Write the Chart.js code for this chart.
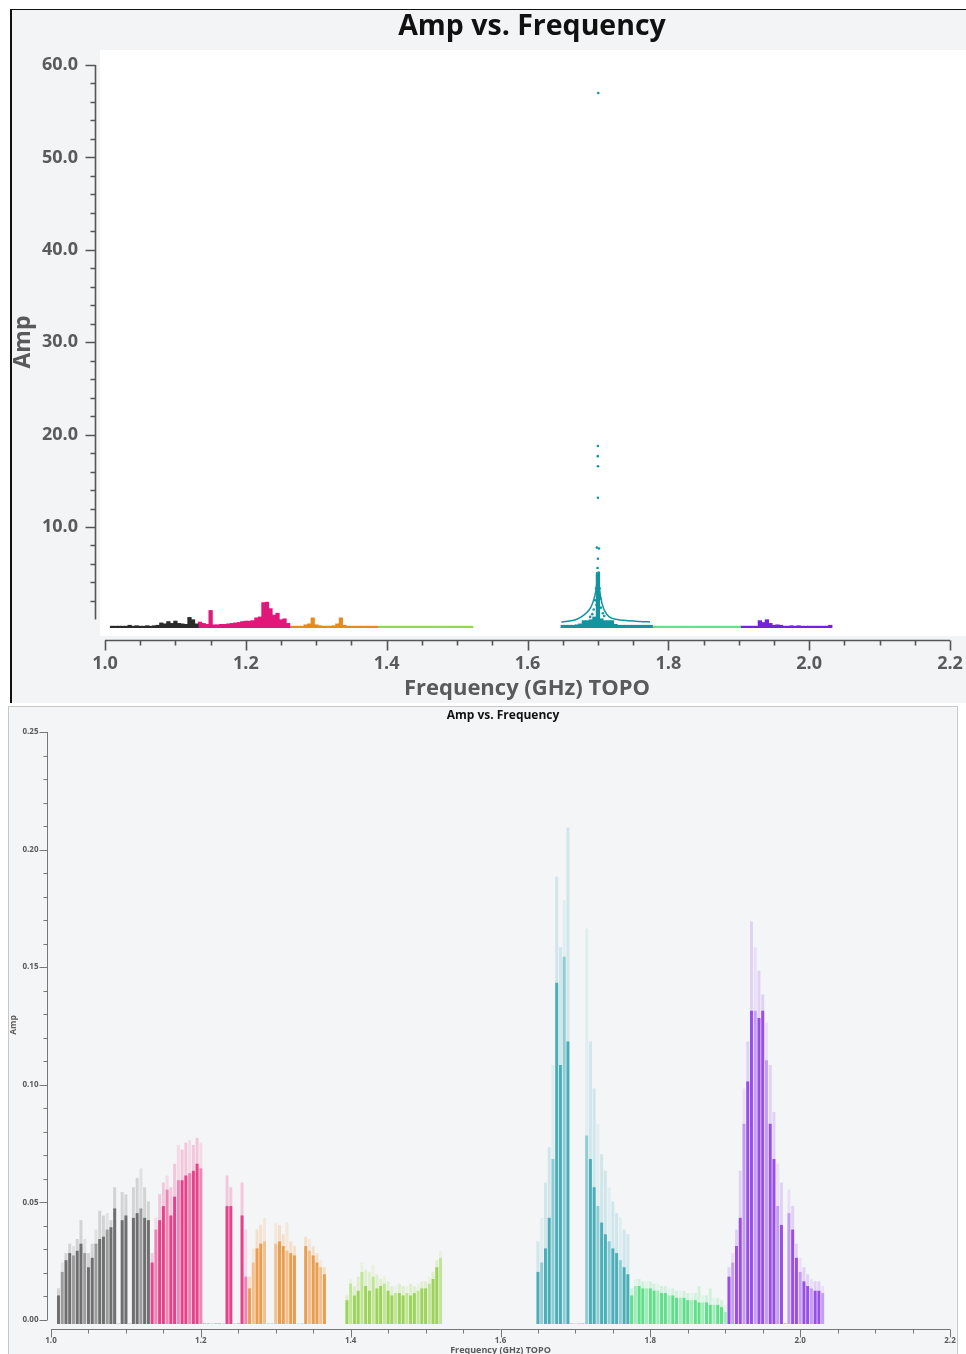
<!DOCTYPE html>
<html>
<head>
<meta charset="utf-8">
<script src="https://cdn.jsdelivr.net/npm/chart.js@4.4.1/dist/chart.umd.min.js"></script>
<style>
  html, body { margin: 0; padding: 0; background: #fff; }
  #top { position: absolute; left: 0; top: 0; width: 966px; height: 705px; }
  #bottom { position: absolute; left: 0; top: 705px; width: 966px; height: 649px; }
</style>
</head>
<body>
<div id="top"><canvas id="ampTop"></canvas></div>
<div id="bottom"><canvas id="ampBottom"></canvas></div>
<script>
// channel spacing of the sampled spectra (GHz)
const STEP = 0.005;

// axis tick labels
const xTickLabels = [1.0, 1.2, 1.4, 1.6, 1.8, 2.0, 2.2];
const topYTickLabels = [10, 20, 30, 40, 50, 60];
const bottomYTickLabels = [0.00, 0.05, 0.10, 0.15, 0.20, 0.25];

// ---- upper plot (raw amp), one array per spw ----
const topBlackStart = 1.010;
const topBlack = [0.2, 0.2, 0.2, 0.2, 0.2, 0.3, 0.2, 0.25, 0.2, 0.2, 0.25, 0.2, 0.25, 0.3, 0.55,
                  0.45, 0.7, 0.5, 0.75, 0.5, 0.45, 0.4, 1.15, 0.9, 0.45];
const topPinkStart = 1.135;
const topPink = [0.65, 0.5, 0.4, 1.9, 0.35, 0.35, 0.4, 0.4, 0.45, 0.5, 0.55, 0.6, 0.7, 0.75, 0.75,
                 0.8, 1.1, 1.2, 2.75, 2.8, 2.1, 1.4, 1.6, 0.9, 1.0, 0.5];
const topOrangeStart = 1.265;
const topOrange = [0.2, 0.2, 0.2, 0.2, 0.35, 0.45, 1.1, 0.35, 0.25, 0.2, 0.2, 0.2, 0.25, 0.45, 1.1,
                   0.3, 0.2, 0.2, 0.2, 0.2, 0.2, 0.2, 0.2, 0.2, 0.2];
const topGreenStart = 1.390;
const topGreen = [0.2, 0.2, 0.2, 0.2, 0.2, 0.2, 0.2, 0.2, 0.2, 0.2, 0.2, 0.2, 0.2, 0.2, 0.2,
                  0.2, 0.2, 0.2, 0.2, 0.2, 0.2, 0.2, 0.2, 0.2, 0.2, 0.2, 0.2];
const topTealStart = 1.650;
const topTeal = [0.3, 0.3, 0.3, 0.3, 0.35, 0.45, 0.8, 0.8, 0.9, 1.2, 6.0, 1.0, 0.8, 0.8, 0.8,
                 0.4, 0.3, 0.3, 0.3, 0.3, 0.3, 0.3, 0.3, 0.3, 0.3, 0.3];
const topMintStart = 1.780;
const topMint = [0.2, 0.2, 0.2, 0.2, 0.2, 0.2, 0.2, 0.2, 0.2, 0.2, 0.2, 0.2, 0.2, 0.2, 0.2,
                 0.2, 0.2, 0.2, 0.2, 0.2, 0.2, 0.2, 0.2, 0.2, 0.2];
const topPurpleStart = 1.905;
const topPurple = [0.2, 0.2, 0.2, 0.2, 0.2, 0.8, 0.6, 0.9, 0.5, 0.3, 0.35, 0.3, 0.2, 0.2, 0.25,
                   0.2, 0.25, 0.2, 0.2, 0.2, 0.2, 0.2, 0.2, 0.2, 0.2, 0.3];

// teal spw: outer fan of points and the scattered outliers
const tealWingLeftFreq = [1.648, 1.660, 1.670, 1.680, 1.688, 1.693, 1.697, 1.699];
const tealWingLeftAmp = [0.65, 0.75, 0.95, 1.4, 2.0, 2.8, 4.0, 5.2];
const tealWingRightFreq = [1.701, 1.703, 1.706, 1.710, 1.716, 1.725, 1.740, 1.760, 1.774];
const tealWingRightAmp = [5.0, 3.8, 2.6, 1.8, 1.2, 0.95, 0.8, 0.7, 0.65];
const tealOutlierFreq = [1.7005, 1.7000, 1.6998, 1.7002, 1.7000, 1.6985, 1.7015, 1.7000, 1.6995, 1.7010,
                         1.6990, 1.7000, 1.6975, 1.7025, 1.6995, 1.7035, 1.6960, 1.6980, 1.7040, 1.6940,
                         1.7070, 1.6920, 1.7090, 1.6890];
const tealOutlierAmp = [57.9, 19.7, 18.6, 17.5, 14.1, 8.7, 8.6, 7.5, 6.5, 6.0,
                        5.5, 5.0, 4.3, 4.3, 3.8, 3.2, 3.0, 2.5, 2.2, 2.0,
                        1.6, 1.5, 1.3, 1.2];

// ---- lower plot (calibrated amp): dense level and highest scattered points ----
const grayStart = 1.010;
const grayDense = [0.012, 0.022, 0.027, 0.030, 0.029, 0.031, 0.034, 0.030, 0.024, 0.028,
                   0.034, 0.036, 0.037, 0.040, 0.041, 0.049, 0, 0.044, 0.046, 0,
                   0.045, 0.047, 0.049, 0.045, 0.044];
const grayPeak = [0.015, 0.026, 0.030, 0.034, 0.033, 0.036, 0.044, 0.036, 0.030, 0.034,
                  0.040, 0.048, 0.046, 0.047, 0.044, 0.058, 0, 0.056, 0.055, 0,
                  0.058, 0.062, 0.066, 0.058, 0.052];
const pinkStart = 1.135;
const pinkDense = [0.026, 0.040, 0.044, 0.050, 0.057, 0.046, 0.054, 0.061, 0.061, 0.063,
                   0.064, 0.065, 0.068, 0.066, 0, 0, 0, 0, 0, 0,
                   0.050, 0.050, 0, 0, 0.046, 0.020];
const pinkPeak = [0.030, 0.045, 0.055, 0.060, 0.063, 0.058, 0.068, 0.076, 0.074, 0.077,
                  0.078, 0.076, 0.079, 0.077, 0, 0, 0, 0, 0, 0,
                  0.063, 0.058, 0, 0, 0.060, 0.040];
const orangeStart = 1.265;
const orangeDense = [0.015, 0.026, 0.032, 0.034, 0.035, 0, 0, 0.034, 0.035, 0.033,
                     0.031, 0.030, 0.029, 0, 0, 0.033, 0.031, 0.029, 0.026, 0.024, 0.021];
const orangePeak = [0.020, 0.032, 0.040, 0.042, 0.045, 0, 0, 0.043, 0.042, 0.038,
                    0.043, 0.035, 0.033, 0, 0, 0.037, 0.036, 0.033, 0.030, 0.027, 0.024];
const greenStart = 1.395;
const greenDense = [0.010, 0.017, 0.012, 0.014, 0.022, 0.016, 0.014, 0.020, 0.015, 0.016,
                    0.017, 0.014, 0.012, 0.013, 0.013, 0.012, 0.013, 0.012, 0.013, 0.014,
                    0.015, 0.015, 0.017, 0.019, 0.024, 0.028];
const greenPeak = [0.012, 0.019, 0.016, 0.020, 0.026, 0.023, 0.022, 0.025, 0.021, 0.019,
                   0.020, 0.018, 0.016, 0.016, 0.017, 0.016, 0.016, 0.017, 0.016, 0.017,
                   0.018, 0.018, 0.020, 0.022, 0.027, 0.031];
const tealStart = 1.650;
const tealDense = [0.022, 0.026, 0.032, 0.045, 0.070, 0.145, 0.110, 0.156, 0.120, 0,
                   0, 0, 0, 0.080, 0.070, 0.058, 0.050, 0.043, 0.038, 0.035,
                   0.032, 0.030, 0.027, 0.024, 0.021];
const tealPeak = [0.035, 0.045, 0.060, 0.075, 0.110, 0.190, 0.160, 0.180, 0.211, 0,
                  0, 0, 0, 0.168, 0.120, 0.100, 0.085, 0.072, 0.065, 0.058,
                  0.052, 0.047, 0.045, 0.040, 0.038];
const mintStart = 1.775;
const mintDense = [0.012, 0.016, 0.016, 0.015, 0.015, 0.015, 0.014, 0.014, 0.013, 0.013,
                   0.012, 0.012, 0.011, 0.011, 0.011, 0.010, 0.010, 0.010, 0.009, 0.009,
                   0.009, 0.008, 0.008, 0.008, 0.007, 0.005];
const mintPeak = [0.015, 0.019, 0.019, 0.018, 0.018, 0.018, 0.017, 0.017, 0.016, 0.016,
                  0.015, 0.015, 0.014, 0.014, 0.014, 0.013, 0.013, 0.013, 0.016, 0.012,
                  0.012, 0.015, 0.011, 0.011, 0.010, 0.008];
const purpleStart = 1.905;
const purpleDense = [0.020, 0.026, 0.033, 0.045, 0.085, 0.103, 0.133, 0.133, 0.130, 0.133,
                     0.112, 0.085, 0.070, 0.050, 0.042, 0, 0.047, 0.040, 0.028, 0.022,
                     0.018, 0.016, 0.015, 0.014, 0.014, 0.013];
const purplePeak = [0.024, 0.030, 0.040, 0.065, 0.100, 0.120, 0.171, 0.160, 0.150, 0.140,
                    0.128, 0.110, 0.090, 0.068, 0.060, 0, 0.057, 0.050, 0.034, 0.028,
                    0.024, 0.021, 0.019, 0.018, 0.018, 0.016];

// helpers
function channels(start, vals) {
    return vals.map((v, i) => ({ x: +(start + i * STEP).toFixed(4), y: v }));
}
function pairs(xs, ys) {
    return xs.map((x, i) => ({ x: x, y: ys[i] }));
}
function shade(base, light) {
    return c => (c.dataIndex % 3 === 1 ? light : base);
}

const FONT = '"Open Sans", "DejaVu Sans", sans-serif';

// draws the frames, axes, ticks and titles around a plot
function drawAxes(chart, s) {
    const ctx = chart.ctx;
    const xs = chart.scales.x;
    const ys = chart.scales.yAxis;
    ctx.save();
    ctx.strokeStyle = s.axisColor;
    ctx.lineWidth = s.lineW;

    // y axis
    const yTop = ys.getPixelForValue(s.yMax);
    const yBot = ys.getPixelForValue(s.yLineMin);
    ctx.beginPath();
    ctx.moveTo(s.yAxisX, yTop);
    ctx.lineTo(s.yAxisX, yBot);
    for (let k = Math.round(s.yLineMin / s.yMinor) + 1; k * s.yMinor <= s.yMax + 1e-9; k++) {
        const py = Math.round(ys.getPixelForValue(k * s.yMinor)) + 0.5;
        ctx.moveTo(s.yAxisX - s.minorLen, py);
        ctx.lineTo(s.yAxisX, py);
    }
    s.yTicks.forEach(v => {
        const py = Math.round(ys.getPixelForValue(v)) + 0.5;
        ctx.moveTo(s.yAxisX - s.majorLen, py);
        ctx.lineTo(s.yAxisX, py);
    });

    // x axis
    ctx.moveTo(xs.getPixelForValue(xTickLabels[0]), s.xAxisY);
    ctx.lineTo(xs.getPixelForValue(xTickLabels[xTickLabels.length - 1]), s.xAxisY);
    for (let k = 20; k <= 44; k++) {
        const px = Math.round(xs.getPixelForValue(k * 0.05)) + 0.5;
        ctx.moveTo(px, s.xAxisY);
        ctx.lineTo(px, s.xAxisY + (k % 4 === 0 ? s.majorLen : s.minorLen));
    }
    ctx.stroke();

    // tick labels
    ctx.fillStyle = s.labelColor;
    ctx.font = 'bold ' + s.tickFont + 'px ' + FONT;
    ctx.textAlign = 'right';
    ctx.textBaseline = 'middle';
    s.yTicks.forEach(v => {
        ctx.fillText(v.toFixed(s.yDigits), s.yLabelX, ys.getPixelForValue(v));
    });
    ctx.textAlign = 'center';
    xTickLabels.forEach(v => {
        ctx.fillText(v.toFixed(1), xs.getPixelForValue(v), s.xLabelY);
    });

    // axis titles
    ctx.font = 'bold ' + s.xTitleFont + 'px ' + FONT;
    ctx.fillText('Frequency (GHz) TOPO', s.xTitle[0], s.xTitle[1]);
    ctx.save();
    ctx.translate(s.yTitle[0], s.yTitle[1]);
    ctx.rotate(-Math.PI / 2);
    ctx.font = 'bold ' + s.yTitleFont + 'px ' + FONT;
    ctx.fillText('Amp', 0, 0);
    ctx.restore();

    // plot title
    ctx.fillStyle = '#111';
    ctx.font = 'bold ' + s.titleFont + 'px ' + FONT;
    ctx.fillText('Amp vs. Frequency', s.title[0], s.title[1]);
    ctx.restore();
}

const topFrame = {
    id: 'topFrame',
    beforeDraw(chart) {
        const ctx = chart.ctx;
        ctx.save();
        ctx.fillStyle = '#ffffff';
        ctx.fillRect(0, 0, chart.width, chart.height);
        ctx.fillStyle = '#f3f4f6';
        ctx.fillRect(11, 10, 955, 693);
        ctx.fillStyle = '#ffffff';
        ctx.fillRect(100, 50, 866, 586);
        ctx.fillStyle = '#111111';
        ctx.fillRect(10, 9, 2, 694);
        ctx.fillRect(10, 9, 956, 1);
        ctx.restore();
    },
    afterDraw(chart) {
        drawAxes(chart, {
            axisColor: '#555', lineW: 1.6, labelColor: '#5a5a5a',
            yAxisX: 95.5, yMax: 60, yLineMin: 0, yMinor: 2, yTicks: topYTickLabels, yDigits: 1,
            majorLen: 10, minorLen: 5, xAxisY: 640.5,
            tickFont: 18, yLabelX: 78, xLabelY: 664,
            xTitleFont: 22, xTitle: [527, 689],
            yTitleFont: 23, yTitle: [23, 342],
            titleFont: 28.5, title: [532, 27]
        });
    }
};

const bottomFrame = {
    id: 'bottomFrame',
    beforeDraw(chart) {
        const ctx = chart.ctx;
        ctx.save();
        ctx.fillStyle = '#ffffff';
        ctx.fillRect(0, 0, chart.width, chart.height);
        ctx.fillStyle = '#f4f5f7';
        ctx.fillRect(8, 1, 950, 648);
        ctx.strokeStyle = '#c8c8c8';
        ctx.lineWidth = 1;
        ctx.strokeRect(8.5, 1.5, 949, 650);
        ctx.restore();
    },
    afterDraw(chart) {
        drawAxes(chart, {
            axisColor: '#777', lineW: 1, labelColor: '#5a5a5a',
            yAxisX: 47.5, yMax: 0.25, yLineMin: 0, yMinor: 0.01, yTicks: bottomYTickLabels, yDigits: 2,
            majorLen: 8, minorLen: 4, xAxisY: 624.5,
            tickFont: 8, yLabelX: 38.5, xLabelY: 635.5,
            xTitleFont: 9, xTitle: [500.5, 645],
            yTitleFont: 8.5, yTitle: [14, 320],
            titleFont: 12, title: [503, 11]
        });
    }
};

function topBars(start, vals, color) {
    return {
        type: 'bar', data: channels(start, vals), backgroundColor: color,
        barThickness: 3.6, grouped: false, borderWidth: 0
    };
}
function bottomBars(start, vals, base, light) {
    return {
        type: 'bar', data: channels(start, vals), backgroundColor: shade(base, light),
        barThickness: 2.3, grouped: false, borderWidth: 0
    };
}

const tealTop = '#13949f';

new Chart(document.getElementById('ampTop'), {
    type: 'bar',
    data: {
        datasets: [
            { type: 'scatter', data: pairs(tealOutlierFreq, tealOutlierAmp), pointRadius: 1.3,
              pointBackgroundColor: tealTop, pointBorderWidth: 0 },
            { type: 'line', data: pairs(tealWingLeftFreq, tealWingLeftAmp), borderColor: tealTop,
              borderWidth: 1.5, pointRadius: 0, fill: false, tension: 0.3 },
            { type: 'line', data: pairs(tealWingRightFreq, tealWingRightAmp), borderColor: tealTop,
              borderWidth: 1.5, pointRadius: 0, fill: false, tension: 0.3 },
            topBars(topBlackStart, topBlack, '#2a2a2a'),
            topBars(topPinkStart, topPink, '#e2177a'),
            topBars(topOrangeStart, topOrange, '#e8891c'),
            topBars(topGreenStart, topGreen, '#92d750'),
            topBars(topTealStart, topTeal, tealTop),
            topBars(topMintStart, topMint, '#5ee38c'),
            topBars(topPurpleStart, topPurple, '#7420e4')
        ]
    },
    options: {
        responsive: true,
        maintainAspectRatio: false,
        animation: false,
        events: [],
        layout: { padding: { left: 105, right: 16, top: 65, bottom: 77 } },
        plugins: { legend: { display: false }, tooltip: { enabled: false }, title: { display: false } },
        scales: {
            x: { type: 'linear', min: 1.0, max: 2.2, offset: false, display: false },
            y: { type: 'linear', min: 0, max: 60.93, display: false },
            yAxis: { type: 'linear', axis: 'y', position: 'left', min: -0.93, max: 60, display: false }
        }
    },
    plugins: [topFrame]
});

new Chart(document.getElementById('ampBottom'), {
    type: 'bar',
    data: {
        datasets: [
            bottomBars(grayStart, grayDense, '#6f6f6f', '#9c9c9c'),
            bottomBars(pinkStart, pinkDense, '#e6418a', '#ef85b5'),
            bottomBars(orangeStart, orangeDense, '#eb9d4e', '#f2c08c'),
            bottomBars(greenStart, greenDense, '#9bd458', '#c0e695'),
            bottomBars(tealStart, tealDense, '#4aaeb8', '#8fcdd4'),
            bottomBars(mintStart, mintDense, '#5fdf88', '#9eecb8'),
            bottomBars(purpleStart, purpleDense, '#9a4ee8', '#c49ef2'),
            bottomBars(grayStart, grayPeak, '#a8a8a870', '#c8c8c870'),
            bottomBars(pinkStart, pinkPeak, '#f08bb870', '#f6b6d370'),
            bottomBars(orangeStart, orangePeak, '#f3c38f70', '#f7d9b870'),
            bottomBars(greenStart, greenPeak, '#c3e79a70', '#d9f0bf70'),
            bottomBars(tealStart, tealPeak, '#93d0d660', '#bfe3e660'),
            bottomBars(mintStart, mintPeak, '#a3edbb70', '#c6f4d570'),
            bottomBars(purpleStart, purplePeak, '#c9a3f370', '#ddc4f770')
        ]
    },
    options: {
        responsive: true,
        maintainAspectRatio: false,
        animation: false,
        events: [],
        layout: { padding: { left: 51, right: 16, top: 27, bottom: 30 } },
        plugins: { legend: { display: false }, tooltip: { enabled: false }, title: { display: false } },
        scales: {
            x: { type: 'linear', min: 1.0, max: 2.2, offset: false, display: false },
            y: { type: 'linear', min: 0, max: 0.2517, display: false },
            yAxis: { type: 'linear', axis: 'y', position: 'left', min: -0.0017, max: 0.25, display: false }
        }
    },
    plugins: [bottomFrame]
});
</script>
</body>
</html>
